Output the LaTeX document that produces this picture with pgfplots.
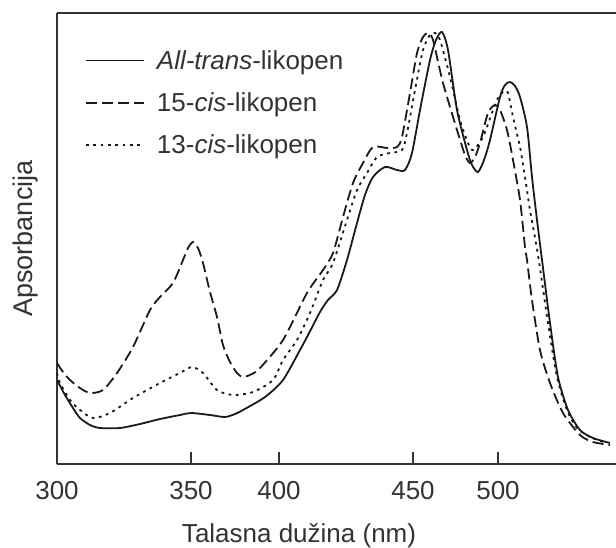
\documentclass[border=0pt]{standalone}
\usepackage{pgfplots}
\pgfplotsset{compat=1.18}
\usepackage{fontspec}
\setmainfont{Liberation Sans}
\definecolor{axisgray}{HTML}{333333}
\definecolor{curve}{HTML}{1A1A1A}
\begin{document}
\begin{tikzpicture}
\begin{axis}[
  at={(0,0)}, anchor=south west,
  scale only axis, width=559pt, height=451pt,
  xmin=57, xmax=616, ymin=0, ymax=451,
  axis x line*=box, axis y line*=left,
  axis line style={axisgray, line width=1.6pt},
  xtick={57,191,279,413,498},
  xticklabels={300,350,400,450,500},
  xtick pos=lower, xtick align=inside,
  major tick length=12pt,
  every tick/.style={axisgray, line width=1.4pt},
  ytick=\empty,
  /pgf/number format/assume math mode=true,
  ticklabel style={font=\fontsize{26}{30}\selectfont, text=axisgray},
  xticklabel style={yshift=-14pt},
  xlabel={Talasna dužina (nm)},
  ylabel={Apsorbancija},
  x label style={at={(axis description cs:0.433,-0.16)}, anchor=center, font=\fontsize{26}{30}\selectfont, text=axisgray},
  y label style={at={(axis description cs:-0.056,0.5)}, anchor=center, rotate=0, font=\fontsize{27}{30}\selectfont, text=axisgray},
  legend cell align=left,
  legend style={draw=none, fill=none, at={(axis description cs:0.05,0.922)}, anchor=north west,
    font=\fontsize{26}{30}\selectfont, text=axisgray, row sep=18pt, inner sep=0pt},
  legend image code/.code={\draw[#1] (0pt,0pt) -- (58pt,0pt); \path (68pt,0pt);},
  every axis plot/.append style={curve, line width=1.8pt, smooth, tension=0.45},
]
\addplot[solid] coordinates {
(57,84) (65,69) (73,56) (80,46) (90,39) (100,36) (120,36) (140,40) (160,45) (180,49) (191,51)
(210,49) (225,47) (235,50) (243,54) (265,67) (283,84) (300,114) (307,127) (320,152) (328,164)
(337,174) (347,204) (357,241) (365,269) (373,287) (385,297) (397,294) (405,294) (412,311)
(420,354) (430,404) (436,424) (442,432) (448,414) (457,354) (467,314) (472,299) (478,292)
(484,304) (490,324) (500,367) (505,379) (510,382) (515,378) (520,367) (527,337) (532,287)
(537,244) (542,204) (550,141) (558,87) (568,54) (580,34) (593,26) (610,21)
};
\addlegendentry{\textit{All-trans}-likopen}
\addplot[dash pattern=on 11pt off 5pt] coordinates {
(57,101) (63,92) (70,84) (80,76) (90,71) (103,74) (117,91) (133,117) (150,154) (160,167)
(173,181) (183,204) (188,216) (193,222) (198,216) (203,201) (210,172) (217,147) (223,119)
(230,102) (237,91) (243,87) (252,90) (260,96) (283,124) (307,171) (323,194) (333,211)
(343,247) (353,281) (363,301) (373,317) (387,316) (397,317) (402,327) (410,371) (417,411)
(423,427) (428,431) (433,424) (443,381) (457,334) (465,309) (470,301) (475,307) (480,321)
(488,351) (495,359) (500,354) (507,334) (513,304) (520,264) (525,217) (527,204) (532,164)
(540,114) (550,81) (563,51) (580,29) (593,22) (610,19)
};
\addlegendentry{15-\textit{cis}-likopen}
\addplot[dash pattern=on 2.8pt off 4.5pt] coordinates {
(57,91) (60,81) (70,64) (80,54) (93,46) (110,51) (133,66) (160,81) (180,91) (192,97) (203,91)
(217,74) (233,69) (253,72) (273,84) (283,104) (297,124) (310,151) (323,184) (333,201)
(347,244) (357,274) (367,291) (377,307) (390,311) (402,314) (407,331) (415,374) (423,414)
(430,429) (435,431) (440,424) (450,387) (460,344) (468,321) (473,314) (483,327) (493,354)
(498,366) (504,373) (508,371) (513,347) (520,317) (525,287) (530,254) (538,209) (548,141)
(557,87) (567,54) (577,36) (590,27) (607,21)
};
\addlegendentry{13-\textit{cis}-likopen}
\end{axis}
\pgfresetboundingbox
\useasboundingbox (-57pt,-83pt) rectangle (559pt,464pt);
\end{tikzpicture}
\end{document}
